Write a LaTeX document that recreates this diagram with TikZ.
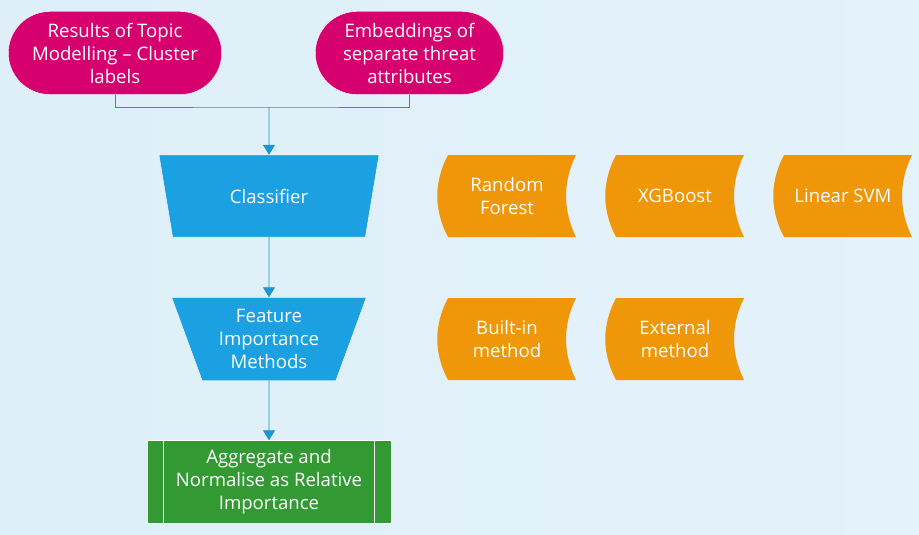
\documentclass[tikz,border=0pt]{standalone}
\usepackage{fontspec}
\setmainfont{Open Sans}
\usetikzlibrary{shapes,arrows.meta}

\definecolor{bgblue}{RGB}{222,239,249}
\definecolor{bgblueb}{RGB}{228,242,250}
\definecolor{termpink}{RGB}{214,0,110}
\definecolor{clsblue}{RGB}{27,161,226}
\definecolor{linkblue}{RGB}{30,148,208}
\definecolor{algorange}{RGB}{240,150,9}
\definecolor{aggreen}{RGB}{51,153,51}

\begin{document}
\begin{tikzpicture}[x=1pt, y=1pt, node distance=1cm, auto,
    font=\fontsize{18.6}{23}\selectfont]
  \tikzstyle{terminator} = [rounded rectangle, draw=white, fill=termpink,
    text=white, align=center, minimum height=83pt]
  \tikzstyle{classify} = [trapezium, shape border rotate=180, trapezium angle=69,
    trapezium stretches=true, draw=white, fill=clsblue, text=white,
    align=center, inner sep=0pt]
  \tikzstyle{store} = [rectangle, minimum width=140pt, minimum height=82pt,
    text=white, align=center, path picture={
      \fill[algorange] ([xshift=11pt]path picture bounding box.north west)
        -- ([xshift=-1pt]path picture bounding box.north east)
        .. controls ([shift={(-14.3,-27)}]path picture bounding box.north east)
        and ([shift={(-14.3,27)}]path picture bounding box.south east)
        .. ([xshift=-1pt]path picture bounding box.south east)
        -- ([xshift=11pt]path picture bounding box.south west)
        .. controls ([shift={(-3.3,27)}]path picture bounding box.south west)
        and ([shift={(-3.3,-27)}]path picture bounding box.north west)
        .. cycle;}]
  \tikzstyle{block} = [rectangle, draw=white, fill=aggreen, text=white,
    align=center, minimum width=244pt, minimum height=83pt]
  \tikzstyle{line} = [draw=linkblue, line width=0.8pt,
    -{Triangle[length=10pt,width=12pt]}]

  % Background
  \useasboundingbox (0,0) rectangle (919,-535);
  \shade[left color=bgblue, right color=bgblueb] (0,0) rectangle (919,-535);

  % Place nodes
  \node [classify, minimum width=222pt, minimum height=82pt] (classif) at (269,-196) {Classifier};
  \node [classify, below of=classif, node distance=143pt, minimum width=195pt,
    minimum height=83pt] (fim) {Feature\\Importance\\Methods};
  \node [block, below of=fim, node distance=143pt] (agg) {Aggregate and\\Normalise as Relative\\Importance};
  \node [terminator, minimum width=220pt] (topic) at (115,-53) {Results of Topic\\Modelling -- Cluster\\labels};
  \node [terminator, minimum width=195pt] (embed) at (409.5,-53) {Embeddings of\\separate threat\\attributes};
  \node [store, right of=classif, node distance=238pt] (rf) {Random\\Forest};
  \node [store, right of=rf, node distance=168pt] (xgb) {XGBoost};
  \node [store, right of=xgb, node distance=168pt] (svm) {Linear SVM};
  \node [store, right of=fim, node distance=238pt] (bim) {Built-in\\method};
  \node [store, right of=bim, node distance=168pt] (ext) {External\\method};
  \coordinate (join) at (269,-107);

  % Draw edges
  \draw [linkblue, line width=0.8pt] (topic.south) |- (join) -| (embed.south);
  \path [line] (join) -- (classif.north);
  \path [line] (classif.south) -- (fim.north);
  \path [line] (fim.south) -- (agg.north);

  \draw [white, line width=0.8pt] ([xshift=17pt]agg.north west) -- ([xshift=17pt]agg.south west);
  \draw [white, line width=0.8pt] ([xshift=-17pt]agg.north east) -- ([xshift=-17pt]agg.south east);
\end{tikzpicture}
\end{document}
